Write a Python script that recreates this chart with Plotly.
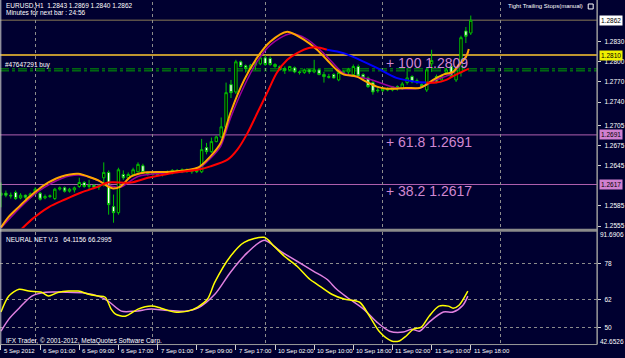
import plotly.graph_objects as go

BG = '#000030'
W, H = 625, 358
FONT = 'Liberation Sans, Arial, sans-serif'

# ---------------- data: hourly candles EURUSD H1 ----------------
OPEN = [1.2601,1.2604,1.2601,1.2605,1.2597,1.2601,1.2598,1.2603,1.2604,1.2597,
        1.2599,1.2596,1.2610,1.2612,1.2607,1.2609,1.2614,1.2620,1.2614,1.2616,
        1.2613,1.2627,1.2635,1.2584,1.2575,1.2632,1.2627,1.2632,1.2636,1.2645,
        1.2635,1.2632,1.2635,1.2632,1.2635,1.2634,1.2638,1.2636,1.2639,1.2636,
        1.2638,1.2636,1.2672,1.2666,1.2681,1.2688,1.2703,1.2766,1.2755,1.2800,
        1.2794,1.2790,1.2795,1.2797,1.2806,1.2805,1.2796,1.2793,1.2790,1.2788,
        1.2791,1.2785,1.2784,1.2788,1.2785,1.2788,1.2781,1.2778,1.2781,1.2773,
        1.2784,1.2785,1.2781,1.2793,1.2781,1.2776,1.2769,1.2758,1.2757,1.2760,
        1.2758,1.2763,1.2760,1.2769,1.2778,1.2770,1.2766,1.2758,1.2797,1.2778,
        1.2773,1.2784,1.2793,1.2773,1.2784,1.2846,1.2843]
HIGH = [1.2620,1.2608,1.2605,1.2608,1.2604,1.2602,1.2605,1.2613,1.2606,1.2602,
        1.2602,1.2612,1.2614,1.2614,1.2612,1.2614,1.2627,1.2622,1.2624,1.2617,
        1.2617,1.2650,1.2638,1.2602,1.2642,1.2638,1.2635,1.2642,1.2650,1.2648,
        1.2636,1.2636,1.2637,1.2636,1.2638,1.2640,1.2640,1.2641,1.2641,1.2640,
        1.2641,1.2685,1.2679,1.2687,1.2690,1.2717,1.2769,1.2773,1.2803,1.2802,
        1.2796,1.2797,1.2803,1.2808,1.2810,1.2808,1.2798,1.2795,1.2793,1.2794,
        1.2793,1.2787,1.2790,1.2789,1.2803,1.2790,1.2785,1.2782,1.2783,1.2786,
        1.2787,1.2791,1.2796,1.2796,1.2783,1.2778,1.2772,1.2762,1.2762,1.2762,
        1.2764,1.2765,1.2770,1.2791,1.2780,1.2775,1.2768,1.2791,1.2818,1.2781,
        1.2781,1.2791,1.2796,1.2790,1.2839,1.2852,1.2869]
LOW = [1.2583,1.2598,1.2596,1.2594,1.2595,1.2595,1.2597,1.2601,1.2593,1.2595,
       1.2597,1.2594,1.2608,1.2605,1.2605,1.2605,1.2612,1.2612,1.2610,1.2610,
       1.2609,1.2614,1.2572,1.2560,1.2572,1.2624,1.2624,1.2630,1.2635,1.2633,
       1.2630,1.2630,1.2630,1.2629,1.2632,1.2632,1.2634,1.2634,1.2635,1.2633,
       1.2634,1.2634,1.2662,1.2664,1.2680,1.2686,1.2700,1.2746,1.2752,1.2792,
       1.2784,1.2788,1.2788,1.2795,1.2794,1.2794,1.2791,1.2787,1.2782,1.2786,
       1.2783,1.2781,1.2782,1.2782,1.2783,1.2780,1.2769,1.2775,1.2775,1.2771,
       1.2782,1.2780,1.2779,1.2778,1.2775,1.2761,1.2751,1.2754,1.2755,1.2756,
       1.2756,1.2757,1.2758,1.2766,1.2768,1.2767,1.2761,1.2755,1.2785,1.2768,
       1.2772,1.2782,1.2776,1.2770,1.2778,1.2828,1.2840]
CLOSE = [1.2604,1.2601,1.2600,1.2596,1.2601,1.2598,1.2603,1.2610,1.2595,1.2599,
         1.2600,1.2610,1.2612,1.2607,1.2610,1.2612,1.2620,1.2614,1.2616,1.2613,
         1.2615,1.2635,1.2587,1.2575,1.2639,1.2627,1.2632,1.2639,1.2647,1.2635,
         1.2632,1.2635,1.2632,1.2635,1.2634,1.2638,1.2636,1.2639,1.2636,1.2638,
         1.2636,1.2669,1.2666,1.2681,1.2688,1.2703,1.2754,1.2754,1.2800,1.2793,
         1.2790,1.2795,1.2799,1.2806,1.2796,1.2796,1.2793,1.2788,1.2787,1.2793,
         1.2785,1.2784,1.2788,1.2785,1.2788,1.2781,1.2778,1.2777,1.2776,1.2784,
         1.2785,1.2789,1.2793,1.2779,1.2776,1.2763,1.2755,1.2757,1.2760,1.2758,
         1.2763,1.2760,1.2767,1.2776,1.2770,1.2772,1.2763,1.2788,1.2802,1.2770,
         1.2778,1.2788,1.2778,1.2788,1.2836,1.2838,1.2862]
BARS = list(range(len(CLOSE)))

# moving averages (bar index, price)
ORANGE_X = [0,1.6,3.7,5.7,7.7,9.7,12.4,15.8,18.5,19.9,21.9,22.9,24.4,26.6,29.4,34.7,40.2,42.8,44.9,46.9,
            49.7,52.4,55.0,58.5,61.9,64.6,66.6,68.6,70.1,72.7,74.7,76.8,78.8,80.8,82.8,85.5,86.9,88.3,90.4,92.4,
            93.6,95.0,95.6]
ORANGE_Y = [1.2553,1.2569,1.2584,1.2598,1.2610,1.2620,1.2629,1.2633,1.2627,1.2623,1.2614,1.2611,1.2614,1.2629,
            1.2635,1.2636,1.2642,1.2659,1.2679,1.2724,1.2773,1.2807,1.2830,1.2845,1.2833,1.2818,1.2803,1.2788,
            1.2781,1.2778,1.2770,1.2763,1.2760,1.2760,1.2761,1.2761,1.2766,1.2773,1.2781,1.2785,1.2796,1.2807,1.2819]
PURPLE_X = [0,3.7,7.7,12.4,15.8,18.5,21.9,24.4,28.0,34.7,40.2,42.8,44.9,46.9,49.7,52.4,55.0,59.1,62.5,65.2,
            67.6,70.0,75.3,80.8,85.5,88.9,92.4,95.6]
PURPLE_Y = [1.2552,1.2581,1.2607,1.2626,1.2631,1.2627,1.2616,1.2613,1.2629,1.2635,1.2640,1.2656,1.2674,1.2716,
            1.2764,1.2801,1.2825,1.2842,1.2834,1.2818,1.2800,1.2783,1.2774,1.2761,1.2761,1.2773,1.2784,1.2815]
RED_X = [0,4.1,6.3,9.7,13.2,16.4,19.9,21.9,26.6,30.0,33.5,36.8,40.2,42.8,46.3,48.3,50.4,52.4,54.4,56.4,
         58.5,60.5,63.1,65.2,66.6]
RED_Y = [1.2528,1.2550,1.2565,1.2583,1.2595,1.2605,1.2614,1.2620,1.2620,1.2627,1.2632,1.2636,1.2639,1.2644,
         1.2654,1.2669,1.2694,1.2724,1.2754,1.2784,1.2803,1.2813,1.2821,1.2821,1.2818]
BLUE_X = [66.6,70.0,73.3,76.8,80.8,84.9,86.9]
BLUE_Y = [1.2818,1.2813,1.2803,1.2791,1.2776,1.2770,1.2769]
RED2_X = [86.9,88.9,91.0,93.0,95.6]
RED2_Y = [1.2769,1.2769,1.2773,1.2781,1.2790]

# horizontal levels
BID = 1.2862
YELLOW_LEVEL = 1.2810
ORDER_LEVELS = [1.27895, 1.27865]
FIB_LEVELS = [1.2691, 1.2617]
FIB_TEXTS = ['+ 100 1.2809', '+ 61.8 1.2691', '+ 38.2 1.2617']
FIB_TEXT_Y = [1.2809, 1.2691, 1.2617]
PRICE_TICKS = [1.2830, 1.2800, 1.2770, 1.2740, 1.2705, 1.2675, 1.2645, 1.2585, 1.2555]

# Neural net sub-window (bar index, value)
NN_YEL_X = [0,1.6,3.7,5.7,8.3,9.7,11.8,15.8,17.9,19.9,21.3,22.5,23.4,25.4,28.0,30.7,32.7,35.5,38.2,40.2,
            42.2,43.7,46.9,49.7,53.8,55.8,57.9,60.5,63.1,64.6,67.6,70.1,73.3,75.3,77.4,79.8,81.4,82.8,84.3,85.9,
            87.5,89.5,91.4,92.4,93.6,95.4]
NN_YEL_Y = [56.7,63.7,66.7,65.9,65.4,63.7,65.4,65.9,64.5,63.7,63.2,58.0,55.8,54.9,58.0,59.3,58.4,56.7,57.1,58.9,
            62.4,69.8,81.2,87.3,89.5,85.6,81.2,76.8,71.1,68.9,64.5,62.4,61.0,54.9,47.9,44.0,44.0,46.2,49.2,50.1,
            54.9,59.3,59.3,58.4,59.7,65.9]
NN_VIO_X = [0,1.6,3.7,6.3,9.1,13.2,17.3,19.9,21.9,24.6,27.4,30.7,33.5,37.6,40.2,43.7,46.9,50.4,53.8,57.1,
            60.5,63.9,66.6,68.6,70.7,74.1,76.8,79.4,82.2,83.9,85.5,87.5,90.4,92.4,94.4,95.4]
NN_VIO_Y = [48.3,53.6,58.4,63.7,65.4,65.4,65.0,63.7,61.5,57.1,57.1,58.0,57.5,57.1,58.4,64.5,74.2,82.9,88.2,83.4,
            79.0,74.6,71.1,66.7,63.2,58.0,52.3,48.3,47.9,49.2,48.3,52.3,56.7,56.7,59.7,63.7]
NN_MIN, NN_MAX = 42.6526, 91.6906
NN_LEVELS = [78, 62, 50]

# time axis
LABEL_BARS = [0, 8, 16, 24, 32, 40, 48, 56, 64, 72, 80, 88, 96]
LABEL_TEXT = ['5 Sep 2012', '6 Sep 01:00', '6 Sep 09:00', '6 Sep 17:00', '7 Sep 01:00', '7 Sep 09:00',
              '7 Sep 17:00', '10 Sep 02:00', '10 Sep 10:00', '10 Sep 18:00', '11 Sep 02:00',
              '11 Sep 10:00', '11 Sep 18:00']
GRID_BARS = [7, 31, 54, 78, 102]

# ---------------- layout geometry (pixels) ----------------
PX_BAR = 4.925
X0_PX = 1.0
PLOT_R = 601
def py(v):  # pixel y -> paper fraction
    return (H - v) / H

X_RANGE = [-X0_PX / PX_BAR, (PLOT_R - X0_PX) / PX_BAR]
MAIN_DOM = [py(229), py(2)]
SUB_DOM = [py(345), py(233)]
PX_PER_UNIT = 6722.0
Y_RANGE = [1.2800 - (229 - 62) / PX_PER_UNIT, 1.2800 + (62 - 2) / PX_PER_UNIT]

fig = go.Figure()
GREEN = '#00C000'
fig.add_trace(go.Candlestick(
    x=BARS, open=OPEN, high=HIGH, low=LOW, close=CLOSE, xaxis='x', yaxis='y',
    increasing=dict(line=dict(color=GREEN, width=1), fillcolor='#000000'),
    decreasing=dict(line=dict(color=GREEN, width=1), fillcolor='#FFFFFF'),
    whiskerwidth=0, showlegend=False, hoverinfo='skip'))

def line(x, y, color, width, xa='x', ya='y', dash='solid'):
    fig.add_trace(go.Scatter(x=x, y=y, mode='lines', xaxis=xa, yaxis=ya,
                             line=dict(color=color, width=width, shape='spline', smoothing=0.8, dash=dash),
                             showlegend=False, hoverinfo='skip'))

line(PURPLE_X, PURPLE_Y, '#9A009A', 1.5)
line(ORANGE_X, ORANGE_Y, '#FFA500', 2)
line(RED_X, RED_Y, '#FF0000', 2)
line(BLUE_X, BLUE_Y, '#0000FF', 2)
line(RED2_X, RED2_Y, '#FF0000', 2)
line(NN_VIO_X, NN_VIO_Y, '#E080E0', 1.5, 'x2', 'y2')
line(NN_YEL_X, NN_YEL_Y, '#FFFF00', 1.5, 'x2', 'y2')

shapes = []
def hline(yv, color, width, dash='solid'):
    shapes.append(dict(type='line', xref='x domain', yref='y', x0=0, x1=1, y0=yv, y1=yv,
                       line=dict(color=color, width=width, dash=dash), layer='below'))
hline(BID, '#5a5048', 1.5)
hline(YELLOW_LEVEL, '#FFC830', 1.5)
for lv in ORDER_LEVELS:
    hline(lv, '#00A000', 1, 'dashdot')
for lv in FIB_LEVELS:
    hline(lv, '#B060B0', 1)
# separator, borders
shapes.append(dict(type='rect', xref='paper', yref='paper', x0=0, x1=PLOT_R / W, y0=py(232.5), y1=py(229.5),
                   fillcolor='#8a8a8a', line=dict(width=0)))
shapes.append(dict(type='line', xref='paper', yref='paper', x0=0, x1=PLOT_R / W, y0=py(345.5), y1=py(345.5),
                   line=dict(color='#9a9a9a', width=1)))
shapes.append(dict(type='line', xref='paper', yref='paper', x0=0.8 / W, x1=0.8 / W, y0=py(345.5), y1=1,
                   line=dict(color='#c8c8c8', width=1)))
shapes.append(dict(type='line', xref='paper', yref='paper', x0=PLOT_R / W, x1=PLOT_R / W, y0=py(345.5), y1=1,
                   line=dict(color='#9a9a9a', width=1.5)))
# small close-box icon next to the expert name
shapes.append(dict(type='rect', xref='paper', yref='paper', x0=592 / W, x1=597 / W, y0=py(9), y1=py(4),
                   fillcolor='#000030', line=dict(color='#FFFFFF', width=1)))

ann = []
SMALL = dict(family=FONT, size=6.5, color='#FFFFFF')
TINY = dict(family=FONT, size=6, color='#FFFFFF')
def txt(x, y, s, font, xref='paper', yref='paper', xanchor='left', yanchor='middle', **kw):
    ann.append(dict(x=x, y=y, xref=xref, yref=yref, text=s, showarrow=False, font=font,
                    xanchor=xanchor, yanchor=yanchor, **kw))

txt(4 / W, py(6), 'EURUSD,H1  1.2843 1.2869 1.2840 1.2862', SMALL)
txt(4 / W, py(13), 'Minutes for next bar : 24:56', SMALL)
txt(589 / W, py(6.5), 'Tight Trailing Stops(manual)', TINY, xanchor='right')
txt(3 / W, py(65), '#47647291 buy', SMALL)
txt(4 / W, py(240), 'NEURAL NET V.3   64.1156 66.2995', SMALL)
txt(4 / W, py(341.5), 'IFX Trader, © 2001-2012, MetaQuotes Software Corp.', SMALL)

FIBFONT = dict(family=FONT, size=14, color='#D088D0')
for s, yv in zip(FIB_TEXTS, FIB_TEXT_Y):
    txt(78.3, yv, s, FIBFONT, xref='x', yref='y', yshift=-7)

def box(yv, s, bg, fg='#000000'):
    ann.append(dict(x=602.5 / W, y=yv, xref='paper', yref='y', text=s, showarrow=False,
                    font=dict(family=FONT, size=6.5, color=fg), xanchor='left', yanchor='middle',
                    bgcolor=bg, borderpad=1))
box(BID, '1.2862', '#FFFFFF')
box(YELLOW_LEVEL, '1.2810', '#F0F000')
for lv in FIB_LEVELS:
    box(lv, f'{lv:.4f}', '#D080D0')

# sub-window edge values and date labels
txt(602 / W, py(235.5), f'{NN_MAX:.4f}', SMALL)
txt(602 / W, py(342.5), f'{NN_MIN:.4f}', SMALL)
for b, s in zip(LABEL_BARS, LABEL_TEXT):
    txt(b, py(351.5), s, TINY, xref='x2', xshift=1)

AX = dict(showgrid=False, zeroline=False)
fig.update_layout(
    width=W, height=H, margin=dict(l=0, r=0, t=0, b=0),
    paper_bgcolor=BG, plot_bgcolor=BG, showlegend=False,
    font=dict(family=FONT, size=6.5, color='#FFFFFF'),
    xaxis=dict(domain=[0, PLOT_R / W], range=X_RANGE, anchor='y', showticklabels=False, ticks='',
               rangeslider=dict(visible=False), **AX,
               minor=dict(tickvals=GRID_BARS, showgrid=True, gridcolor='#8c8c8c', griddash='dot', gridwidth=1)),
    xaxis2=dict(domain=[0, PLOT_R / W], range=X_RANGE, anchor='y2', matches='x', showticklabels=False,
                tickvals=LABEL_BARS, ticks='outside', ticklen=5, tickcolor='#d0d0d0', tickwidth=1, **AX,
                minor=dict(tickvals=GRID_BARS, showgrid=True, gridcolor='#8c8c8c', griddash='dot', gridwidth=1)),
    yaxis=dict(domain=MAIN_DOM, range=Y_RANGE, side='right', anchor='x', tickvals=PRICE_TICKS,
               ticktext=[f'{v:.4f}' for v in PRICE_TICKS], ticks='outside', ticklen=3, tickcolor='#d0d0d0',
               tickfont=dict(family=FONT, size=6.5, color='#FFFFFF'), ticklabelstandoff=2, **AX),
    yaxis2=dict(domain=SUB_DOM, range=[NN_MIN, NN_MAX], side='right', anchor='x2', tickvals=NN_LEVELS,
                ticktext=[str(v) for v in NN_LEVELS], ticks='outside', ticklen=3, tickcolor='#d0d0d0',
                tickfont=dict(family=FONT, size=6.5, color='#FFFFFF'), showgrid=True, gridcolor='#8c8c8c',
                griddash='dot', gridwidth=1, zeroline=False, ticklabelstandoff=2),
    shapes=shapes, annotations=ann,
)

fig.write_html('out.html')
